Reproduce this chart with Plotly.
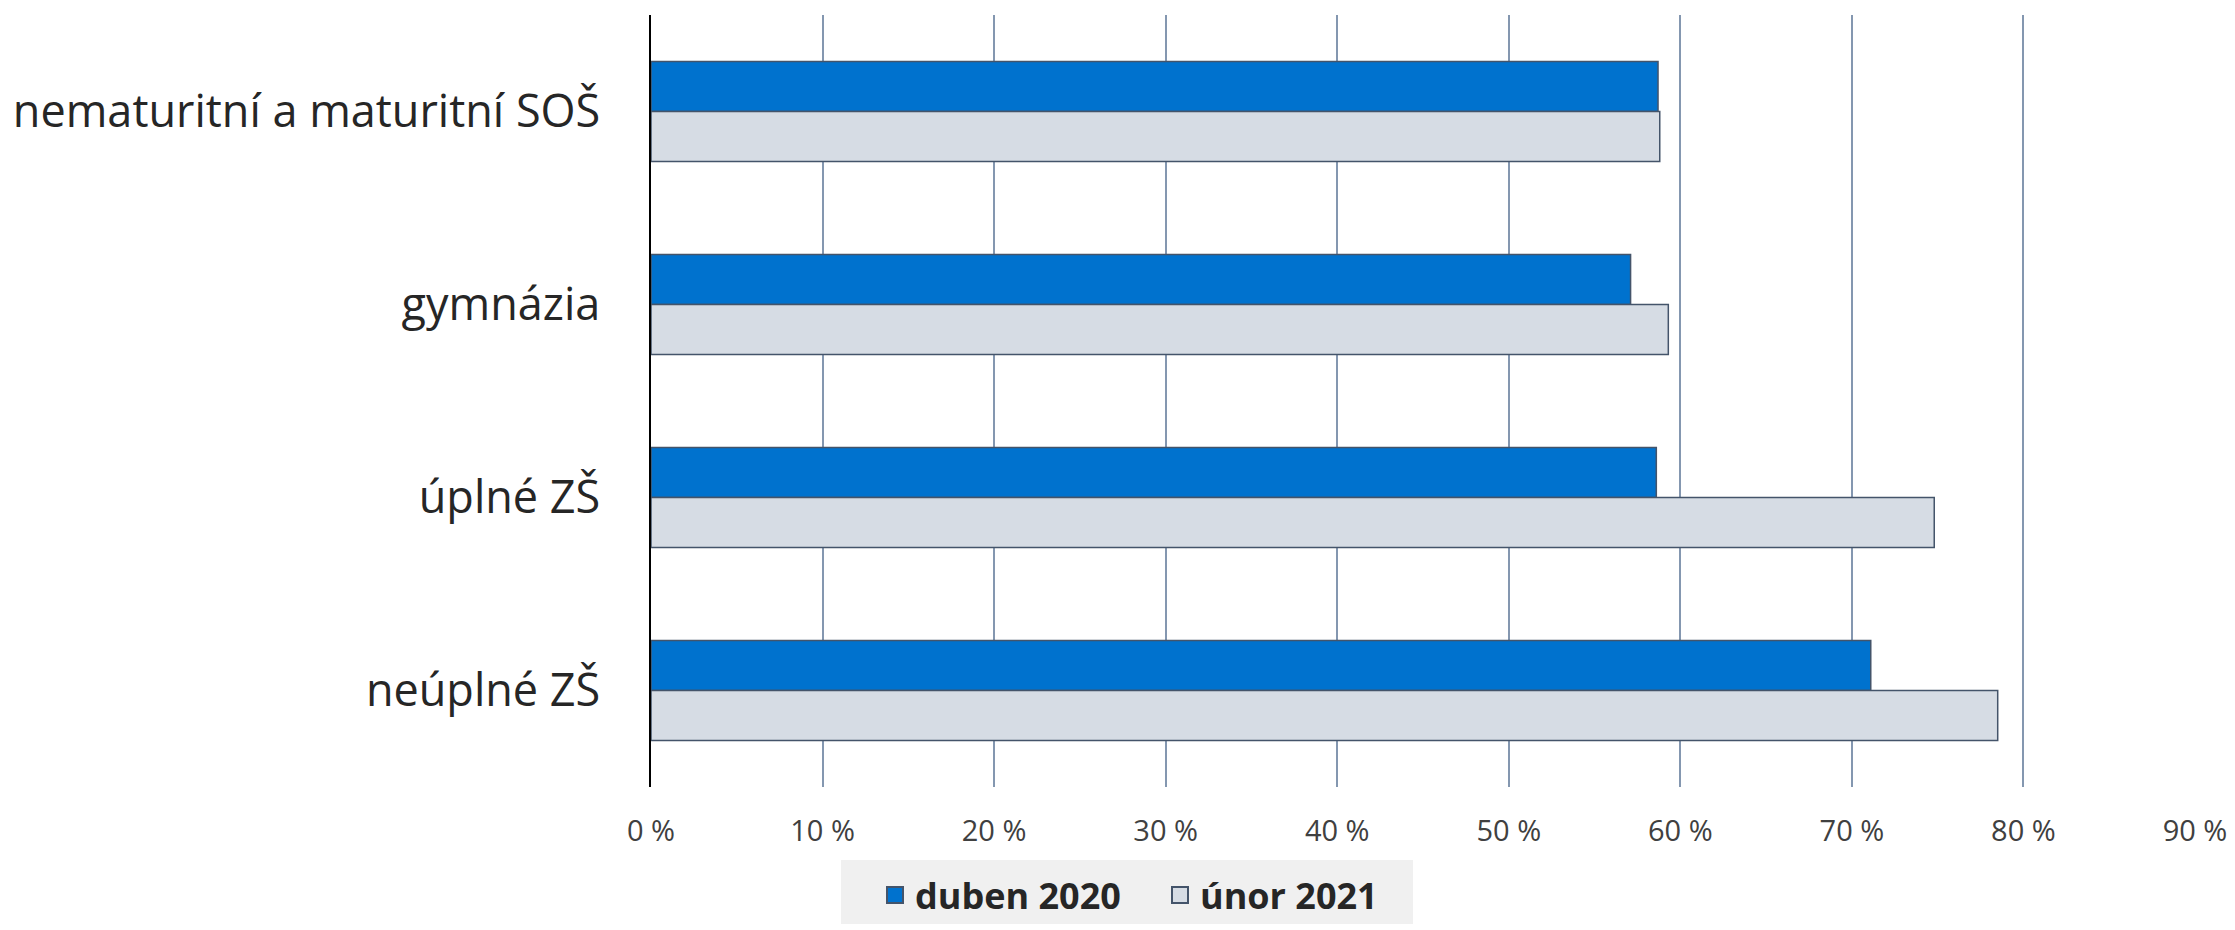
import plotly.graph_objects as go

categories = ["nematuritní a maturitní SOŠ", "gymnázia", "úplné ZŠ", "neúplné ZŠ"]
duben_2020 = [58.7, 57.1, 58.6, 71.1]
unor_2021 = [58.8, 59.3, 74.8, 78.5]
tick_vals = [0, 10, 20, 30, 40, 50, 60, 70, 80, 90]
tick_text = [f"{v} %" for v in tick_vals]
series_names = ["duben 2020", "únor 2021"]
series_colors = ["#0072CE", "#D6DCE4"]

W, H = 2235, 930
L, R, T, B = 651, 40, 15, 143
pw, ph = W - L - R, H - T - B

def px_to_paper_x(px):
    return (px - L) / pw

def px_to_paper_y(py):
    return (H - B - py) / ph

fig = go.Figure()
for name, vals, col in zip(series_names, [duben_2020, unor_2021], series_colors):
    fig.add_trace(go.Bar(
        y=categories, x=vals, name=name, orientation="h", showlegend=False,
        marker=dict(color=col, line=dict(color="#44546A", width=1.5)),
    ))
# legend-only entries with square swatches
for name, col in zip(series_names, series_colors):
    fig.add_trace(go.Scatter(
        x=[None], y=[None], name=name, mode="markers",
        marker=dict(symbol="square", size=22, color=col,
                    line=dict(color="#44546A", width=2)),
    ))

fig.add_shape(type="rect", xref="paper", yref="paper",
              x0=px_to_paper_x(841), x1=px_to_paper_x(1413),
              y0=px_to_paper_y(924), y1=px_to_paper_y(860),
              fillcolor="#F0F0F0", line=dict(width=0), layer="below")

fig.update_layout(
    width=W, height=H,
    margin=dict(l=L, r=R, t=T, b=B, autoexpand=False),
    paper_bgcolor="white", plot_bgcolor="white",
    barmode="group", bargap=0.483, bargroupgap=0,
    font=dict(family="Open Sans", color="#262626"),
    legend=dict(orientation="h", x=px_to_paper_x(1160), xanchor="center",
                y=px_to_paper_y(895), yanchor="middle",
                bgcolor="rgba(0,0,0,0)",
                font=dict(size=36, family="Open Sans", weight="bold", color="#262626"),
                itemsizing="trace", traceorder="normal",
                entrywidth=240, entrywidthmode="pixels"),
    xaxis=dict(range=[0, 90], tickvals=tick_vals, ticktext=tick_text,
               showgrid=True, gridcolor="#8497B0", gridwidth=1.5,
               zeroline=False, showline=False, automargin=False,
               tickfont=dict(size=29, color="#404040"),
               ticklabelstandoff=24, fixedrange=True),
    yaxis=dict(categoryorder="array", categoryarray=categories,
               autorange="reversed", showline=True, linecolor="black",
               linewidth=1.5, showgrid=False, automargin=False,
               tickfont=dict(size=45, color="#262626"),
               ticklabelstandoff=40, ticks=""),
)

fig.write_html("out.html", config={"displayModeBar": False},
               post_script="document.body.style.margin='0';")
